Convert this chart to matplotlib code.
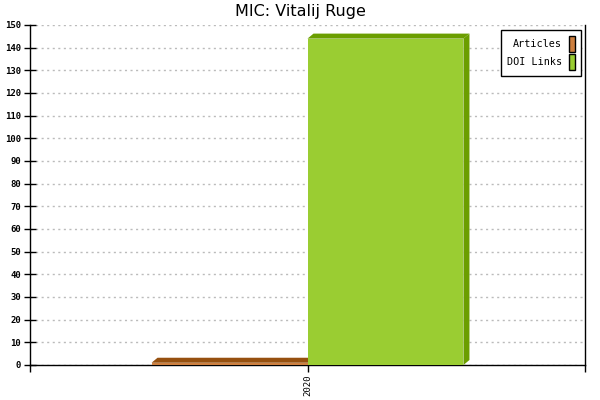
import matplotlib
matplotlib.use("Agg")
import matplotlib.pyplot as plt
from matplotlib.patches import Polygon, Patch
import numpy as np

title = "MIC: Vitalij Ruge"
categories = ["2020"]
series_names = ["Articles", "DOI Links"]
articles = [1]
doi_links = [144]
yticks = list(range(0, 151, 10))

front_colors = ["#cd7f3f", "#9acd32"]
top_colors = ["#96500f", "#6b9e00"]

fig = plt.figure(figsize=(6, 4), dpi=100)
ax = fig.add_axes([30/600, 35/400, 555/600, 340/400])
ax.set_xlim(-0.5, 0.5)
ax.set_ylim(0, 150)

width = 0.281
offsets = [-width/2, width/2]
depth_px = (6, 5)

fig.canvas.draw()
inv = ax.transData.inverted()

def shifted(x, y):
    px, py = ax.transData.transform((x, y))
    return inv.transform((px + depth_px[0], py + depth_px[1]))

for i, (name, vals) in enumerate(zip(series_names, [articles, doi_links])):
    for j, v in enumerate(vals):
        xc = j + offsets[i]
        x0, x1 = xc - width/2, xc + width/2
        top = [(x0, v), (x1, v), tuple(shifted(x1, v)), tuple(shifted(x0, v))]
        ax.add_patch(Polygon(top, closed=True, facecolor=top_colors[i], edgecolor='none', zorder=3))
        side = [(x1, 0), (x1, v), tuple(shifted(x1, v)), tuple(shifted(x1, 0))]
        ax.add_patch(Polygon(side, closed=True, facecolor=top_colors[i], edgecolor='none', zorder=3))
        ax.bar(xc, v, width=width, color=front_colors[i], edgecolor='none', zorder=4)

ax.set_yticks(yticks)
ax.set_yticklabels([str(t) for t in yticks], fontfamily='DejaVu Sans Mono', fontsize=6.5, fontweight='bold')
ax.set_xticks([-0.5, 0, 0.5])
ax.set_xticklabels(["", categories[0], ""], rotation=90, fontfamily='DejaVu Sans Mono', fontsize=6.5)
ax.tick_params(axis='y', direction='inout', length=9, width=1, pad=2)
ax.tick_params(axis='x', direction='out', length=5, width=1, pad=2)
ax.grid(axis='y', color='#bbbbbb', linestyle=(0, (1.5, 2.5)), linewidth=1, zorder=0)
ax.set_axisbelow(True)
for s in ['left', 'bottom', 'right']:
    ax.spines[s].set_color('black')
    ax.spines[s].set_linewidth(1)
ax.spines['top'].set_visible(False)

fig.text(0.5, 1 - 16/400, title, ha='center', va='baseline', fontsize=11.5)

handles = [Patch(facecolor=front_colors[k], edgecolor='black', linewidth=1) for k in range(2)]
leg = ax.legend(handles, series_names, loc='upper right', bbox_to_anchor=(0.9928, 0.985),
                markerfirst=False, prop={'family': 'DejaVu Sans Mono', 'size': 7.3},
                fancybox=False, framealpha=1, edgecolor='black', handlelength=0.6,
                handleheight=2.0, handletextpad=0.7, borderpad=0.6, labelspacing=0.2,
                borderaxespad=0)
leg.get_frame().set_linewidth(1)

fig.savefig("out.png", dpi=100)
